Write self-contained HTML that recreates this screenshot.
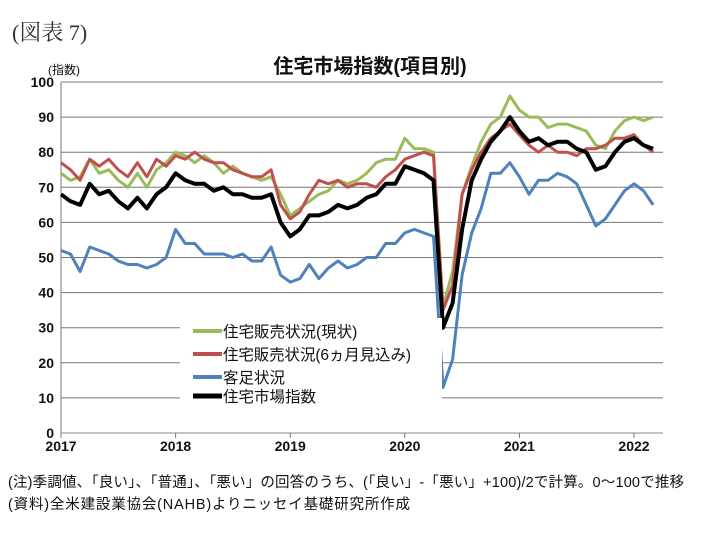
<!DOCTYPE html>
<html><head><meta charset="utf-8"><style>
body{margin:0;background:#fff;}
svg text{font-family:"Liberation Sans","Noto Sans CJK JP",sans-serif;}
</style></head><body>
<svg id="s" width="701" height="530" viewBox="0 0 701 530" xmlns="http://www.w3.org/2000/svg">
<rect width="701" height="530" fill="#fff"/>
<text x="12" y="40" font-size="22" fill="#333" style="font-family:'Liberation Serif','Noto Serif CJK SC',serif">(図表 7)</text>
<text x="370" y="73" font-size="20" font-weight="bold" text-anchor="middle" fill="#111">住宅市場指数(項目別)</text>
<text x="48" y="74" font-size="12" fill="#111">(指数)</text>
<g id="grid" stroke="#777" stroke-width="1"></g>
<g id="yl" font-size="14" font-weight="bold" fill="#111" text-anchor="end"></g>
<g id="xl" font-size="14" font-weight="bold" fill="#111" text-anchor="middle"></g>
<g id="lines" fill="none" stroke-linejoin="round"></g>
<rect x="180" y="318" width="262" height="88" fill="#fff"/>
<g font-size="15.5" fill="#111">
<line x1="193" y1="331" x2="222" y2="331" stroke="#9bbb59" stroke-width="4"/><text x="223" y="337">住宅販売状況(現状)</text>
<line x1="193" y1="354" x2="222" y2="354" stroke="#c0504d" stroke-width="4"/><text x="223" y="360" textLength="188">住宅販売状況(6ヵ月見込み)</text>
<line x1="193" y1="377" x2="222" y2="377" stroke="#4f81bd" stroke-width="4"/><text x="223" y="383">客足状況</text>
<line x1="193" y1="396" x2="222" y2="396" stroke="#000" stroke-width="5"/><text x="223" y="402">住宅市場指数</text>
</g>
<text x="8" y="487" font-size="14.5" fill="#111" textLength="676">(注)季調値、「良い」、「普通」、「悪い」の回答のうち、(「良い」-「悪い」+100)/2で計算。0～100で推移</text>
<text x="8" y="509" font-size="14.5" fill="#111" textLength="402">(資料)全米建設業協会(NAHB)よりニッセイ基礎研究所作成</text>
</svg>
<script>
const L=61,R=663,Y0=433,S=3.51,M=9.55;
const y=v=>Y0-v*S;
let g=document.getElementById('grid'),h='';
for(let v=0;v<=100;v+=10){h+=`<line x1="${L}" y1="${y(v)}" x2="${R}" y2="${y(v)}" ${v==0?'stroke="#888"':''}/>`;}
h+=`<line x1="${L}" y1="${y(100)}" x2="${L}" y2="${Y0}"/>`;
for(let i=0;i<6;i++){let x=L+i*12*M;h+=`<line x1="${x}" y1="${Y0}" x2="${x}" y2="${Y0+5}"/>`;}
g.innerHTML=h;
let yl='';for(let v=0;v<=100;v+=10)yl+=`<text x="${L-7}" y="${y(v)+5}">${v}</text>`;
document.getElementById('yl').innerHTML=yl;
let xl='';for(let i=0;i<6;i++)xl+=`<text x="${L+i*12*M}" y="${Y0+18}">${2017+i}</text>`;
document.getElementById('xl').innerHTML=xl;
const G=[74,72,73,78,74,75,72,70,74,70,75,77,80,79,77,79,77,74,76,74,73,72,73,68,62,64,66,68,69,72,71,72,74,77,78,78,84,81,81,80,36,46,68,76,83,88,90,96,92,90,90,87,88,88,87,86,82,81,86,89,90,89,90];
const Rd=[77,75,72,78,76,78,75,73,77,73,78,76,79,78,80,78,77,77,75,74,73,73,75,65,61,63,68,72,71,72,70,71,71,70,73,75,78,79,80,79,35,42,68,75,80,84,86,88,85,82,80,82,80,80,79,81,81,82,84,84,85,82,80];
const B=[52,51,46,53,52,51,49,48,48,47,48,50,58,54,54,51,51,51,50,51,49,49,53,45,43,44,48,44,47,49,47,48,50,50,54,54,57,58,57,56,13,21,45,57,64,74,74,77,73,68,72,72,74,73,71,65,59,61,65,69,71,69,65];
const K=[68,66,65,71,68,69,66,64,67,64,68,70,74,72,71,71,69,70,68,68,67,67,68,60,56,58,62,62,63,65,64,65,67,68,71,71,76,75,74,72,30,37,58,72,78,83,86,90,86,83,84,82,83,83,81,80,75,76,80,83,84,82,81];
const pl=(d,c,w)=>`<polyline stroke="${c}" stroke-width="${w}" points="${d.map((v,i)=>(L+i*M).toFixed(1)+','+y(v).toFixed(1)).join(' ')}"/>`;
document.getElementById('lines').innerHTML=pl(G,'#9bbb59',3)+pl(Rd,'#c0504d',3)+pl(B,'#4f81bd',3)+pl(K,'#000',4);
</script>
</body></html>
